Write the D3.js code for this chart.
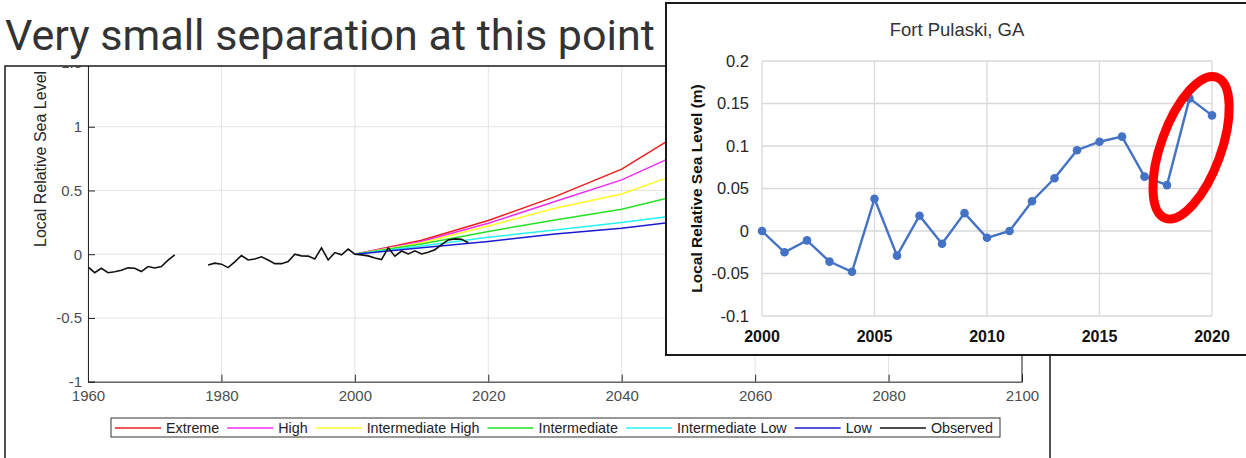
<!DOCTYPE html>
<html>
<head>
<meta charset="utf-8">
<script src="https://cdn.jsdelivr.net/npm/d3@7"></script>
<style>
  body { margin: 0; background: #fff; }
  svg { display: block; }
</style>
</head>
<body>
<div id="vis"></div>
<script>
// main chart data (metres, relative to 2000)
const xTicks = [1960, 1980, 2000, 2020, 2040, 2060, 2080, 2100]
const yTicks = [-1, -0.5, 0, 0.5, 1, 1.5]

const scenarioNames = ["Extreme", "High", "Intermediate High", "Intermediate", "Intermediate Low", "Low"]
const scenarioColors = ["#f01c1c", "#f02cf0", "#ffff26", "#26e026", "#26f2f2", "#1a1ad0"]

const projYears = [2000, 2010, 2020, 2030, 2040, 2050, 2060, 2070, 2080, 2090, 2100]
const extreme = [0, 0.11, 0.264, 0.452, 0.667, 0.99, 1.35, 1.75, 2.2, 2.65, 3.1]
const high = [0, 0.10, 0.243, 0.413, 0.583, 0.82, 1.1, 1.45, 1.8, 2.2, 2.6]
const intHigh = [0, 0.09, 0.222, 0.361, 0.473, 0.66, 0.88, 1.13, 1.4, 1.7, 2.0]
const intermediate = [0, 0.08, 0.178, 0.269, 0.353, 0.48, 0.63, 0.79, 0.96, 1.15, 1.35]
const intLow = [0, 0.065, 0.133, 0.19, 0.248, 0.315, 0.39, 0.46, 0.53, 0.6, 0.68]
const low = [0, 0.05, 0.099, 0.159, 0.204, 0.266, 0.3, 0.34, 0.38, 0.42, 0.46]
const scenarios = [extreme, high, intHigh, intermediate, intLow, low]

const obsYears = [
  1960, 1961, 1962, 1963, 1964, 1965, 1966, 1967, 1968, 1969,
  1970, 1971, 1972, 1973, 1974, 1975, 1976, 1977, 1978, 1979,
  1980, 1981, 1982, 1983, 1984, 1985, 1986, 1987, 1988, 1989,
  1990, 1991, 1992, 1993, 1994, 1995, 1996, 1997, 1998, 1999,
  2000, 2001, 2002, 2003, 2004, 2005, 2006, 2007, 2008, 2009,
  2010, 2011, 2012, 2013, 2014, 2015, 2016, 2017]
const observed = [
  -0.10, -0.145, -0.11, -0.145, -0.137, -0.125, -0.107, -0.11, -0.136, -0.097,
  -0.108, -0.097, -0.047, -0.005, null, null, null, null, -0.084, -0.07,
  -0.078, -0.105, -0.06, -0.01, -0.045, -0.038, -0.02, -0.045, -0.074, -0.074,
  -0.058, 0.0, -0.013, -0.015, -0.037, 0.05, -0.045, 0.013, -0.005, 0.04,
  0.0, -0.005, -0.013, -0.03, -0.042, 0.05, -0.015, 0.025, 0.002, 0.027,
  0.002, 0.015, 0.035, 0.075, 0.112, 0.12, 0.118, 0.09]

// inset data (Fort Pulaski, GA)
const insetYears = [2000, 2001, 2002, 2003, 2004, 2005, 2006, 2007, 2008, 2009, 2010,
  2011, 2012, 2013, 2014, 2015, 2016, 2017, 2018, 2019, 2020]
const insetLevels = [0, -0.025, -0.011, -0.036, -0.048, 0.038, -0.029, 0.018, -0.015, 0.021, -0.008,
  0.0, 0.035, 0.062, 0.095, 0.105, 0.111, 0.064, 0.054, 0.156, 0.136]
const insetXTicks = [2000, 2005, 2010, 2015, 2020]
const insetYTicks = [-0.1, -0.05, 0, 0.05, 0.1, 0.15, 0.2]

const width = 1246
const height = 458

const svg = d3.select("#vis")
  .append("svg")
  .attr("width", width)
  .attr("height", height)
  .style("font-family", "'Liberation Sans', Arial, sans-serif")

//slide title, sized to fill its space
const title = svg.append("text")
  .attr("x", 5)
  .attr("y", 50)
  .attr("fill", "#333")
  .style("font-family", "Roboto, sans-serif")
  .style("font-size", "43px")
  .text("Very small separation at this point")
const tw = title.node().getComputedTextLength()
title.style("font-size", (43 * 650 / tw) + "px")

// ---------- main MATLAB-style figure ----------
const defs = svg.append("defs")
defs.append("clipPath").attr("id", "frameClip")
  .append("rect").attr("x", 5).attr("y", 66).attr("width", 1045).attr("height", 400)
defs.append("clipPath").attr("id", "plotClip")
  .append("rect").attr("x", 88).attr("y", 63).attr("width", 934).attr("height", 319)

const fig = svg.append("g").attr("clip-path", "url(#frameClip)")

const x = d3.scaleLinear().domain([1960, 2100]).range([88, 1022])
const y = d3.scaleLinear().domain([-1, 1.5]).range([381.7, 63])

//grid
fig.append("g")
  .selectAll("line.vg")
  .data(xTicks)
  .enter().append("line")
  .attr("x1", d => x(d)).attr("x2", d => x(d))
  .attr("y1", y(1.5)).attr("y2", y(-1))
  .attr("stroke", "#e3e3e3")
fig.append("g")
  .selectAll("line.hg")
  .data(yTicks)
  .enter().append("line")
  .attr("x1", x(1960)).attr("x2", x(2100))
  .attr("y1", d => y(d)).attr("y2", d => y(d))
  .attr("stroke", "#e3e3e3")

//projection lines
const plot = fig.append("g").attr("clip-path", "url(#plotClip)")
const projLine = d3.line()
  .x((d, i) => x(projYears[i]))
  .y(d => y(d))
plot.selectAll("path.proj")
  .data(scenarios)
  .enter().append("path")
  .attr("d", projLine)
  .attr("fill", "none")
  .attr("stroke", (d, i) => scenarioColors[i])
  .attr("stroke-width", 1.5)

//observed
const obsLine = d3.line()
  .defined(d => d !== null)
  .x((d, i) => x(obsYears[i]))
  .y(d => y(d))
plot.append("path")
  .attr("d", obsLine(observed))
  .attr("fill", "none")
  .attr("stroke", "#111")
  .attr("stroke-width", 1.6)

//axes, ticks pointing inward
const xAxis = fig.append("g")
  .attr("transform", `translate(0,${y(-1)})`)
  .call(d3.axisBottom(x).tickValues(xTicks).tickSize(-7).tickPadding(9).tickFormat(d => String(d)))
const yAxis = fig.append("g")
  .attr("transform", `translate(${x(1960)},0)`)
  .call(d3.axisLeft(y).tickValues(yTicks).tickSize(-7).tickPadding(6).tickFormat(d => String(d)))
;[xAxis, yAxis].forEach(a => {
  a.select(".domain").attr("stroke", "#262626")
  a.selectAll(".tick line").attr("stroke", "#262626")
  a.selectAll(".tick text")
    .attr("fill", "#4d4d4d")
    .style("font-size", "15px")
    .style("font-family", "'Liberation Sans', Arial, sans-serif")
})
//box edges
fig.append("line")
  .attr("x1", x(2100)).attr("x2", x(2100))
  .attr("y1", y(1.5)).attr("y2", y(-1))
  .attr("stroke", "#262626")
fig.append("line")
  .attr("x1", x(1960)).attr("x2", x(2100))
  .attr("y1", y(1.5)).attr("y2", y(1.5))
  .attr("stroke", "#262626")

fig.append("text")
  .attr("transform", `translate(40,247) rotate(-90)`)
  .attr("dy", "0.35em")
  .attr("fill", "#262626")
  .style("font-size", "16px")
  .text("Local Relative Sea Level (m)")

//legend
const legendNames = scenarioNames.concat(["Observed"])
const legendColors = scenarioColors.concat(["#111"])
const lg = fig.append("g")
lg.append("rect")
  .attr("x", 111).attr("y", 418)
  .attr("width", 889).attr("height", 19)
  .attr("fill", "#fff")
  .attr("stroke", "#333")
let lx = 115
legendNames.forEach((name, i) => {
  lg.append("line")
    .attr("x1", lx).attr("x2", lx + 46)
    .attr("y1", 428).attr("y2", 428)
    .attr("stroke", legendColors[i])
    .attr("stroke-width", 1.3)
  const t = lg.append("text")
    .attr("x", lx + 51)
    .attr("y", 433)
    .attr("fill", "#222")
    .style("font-size", "14.3px")
    .text(name)
  lx += 51 + t.node().getComputedTextLength() + 8
})

//figure border
svg.append("rect")
  .attr("x", 5).attr("y", 66)
  .attr("width", 1045).attr("height", 420)
  .attr("fill", "none")
  .attr("stroke", "#1a1a1a")
  .attr("stroke-width", 1.5)

// ---------- inset Excel-style chart ----------
const inset = svg.append("g")
inset.append("rect")
  .attr("x", 666).attr("y", 3)
  .attr("width", 600).attr("height", 352)
  .attr("fill", "#fff")
  .attr("stroke", "#1a1a1a")
  .attr("stroke-width", 2)

const ix = d3.scaleLinear().domain([2000, 2020]).range([762, 1212])
const iy = d3.scaleLinear().domain([-0.1, 0.2]).range([316, 61])

inset.append("text")
  .attr("x", 957).attr("y", 36)
  .attr("text-anchor", "middle")
  .attr("fill", "#333")
  .style("font-size", "18.5px")
  .text("Fort Pulaski, GA")

inset.selectAll("line.ivg")
  .data(insetXTicks)
  .enter().append("line")
  .attr("x1", d => ix(d)).attr("x2", d => ix(d))
  .attr("y1", iy(0.2)).attr("y2", iy(-0.1))
  .attr("stroke", "#d9d9d9")
  .attr("stroke-width", 1.3)
inset.selectAll("line.ihg")
  .data(insetYTicks)
  .enter().append("line")
  .attr("x1", ix(2000)).attr("x2", ix(2020))
  .attr("y1", d => iy(d)).attr("y2", d => iy(d))
  .attr("stroke", "#d9d9d9")
  .attr("stroke-width", 1.3)

inset.selectAll("text.iyl")
  .data(insetYTicks)
  .enter().append("text")
  .attr("x", 749)
  .attr("y", d => iy(d))
  .attr("dy", "0.35em")
  .attr("text-anchor", "end")
  .attr("fill", "#262626")
  .style("font-size", "16.5px")
  .text(d => String(d))
inset.selectAll("text.ixl")
  .data(insetXTicks)
  .enter().append("text")
  .attr("x", d => ix(d))
  .attr("y", 342)
  .attr("text-anchor", "middle")
  .attr("fill", "#111")
  .style("font-size", "16px")
  .style("font-weight", "bold")
  .text(d => String(d))

inset.append("text")
  .attr("transform", `translate(697,${iy(0.05)}) rotate(-90)`)
  .attr("dy", "0.35em")
  .attr("text-anchor", "middle")
  .attr("fill", "#111")
  .style("font-size", "15.5px")
  .style("font-weight", "bold")
  .text("Local Relative Sea Level (m)")

const insetLine = d3.line()
  .x((d, i) => ix(insetYears[i]))
  .y(d => iy(d))
inset.append("path")
  .attr("d", insetLine(insetLevels))
  .attr("fill", "none")
  .attr("stroke", "#4472c4")
  .attr("stroke-width", 2.4)
inset.selectAll("circle")
  .data(insetLevels)
  .enter().append("circle")
  .attr("cx", (d, i) => ix(insetYears[i]))
  .attr("cy", d => iy(d))
  .attr("r", 4.3)
  .attr("fill", "#4472c4")

//red highlight around the last points
const ecx = ix(2019.07)
const ecy = iy(0.098)
inset.append("ellipse")
  .attr("cx", ecx).attr("cy", ecy)
  .attr("rx", 30).attr("ry", 75)
  .attr("transform", `rotate(20,${ecx},${ecy})`)
  .attr("fill", "none")
  .attr("stroke", "#ff0000")
  .attr("stroke-width", 9)
</script>
</body>
</html>
